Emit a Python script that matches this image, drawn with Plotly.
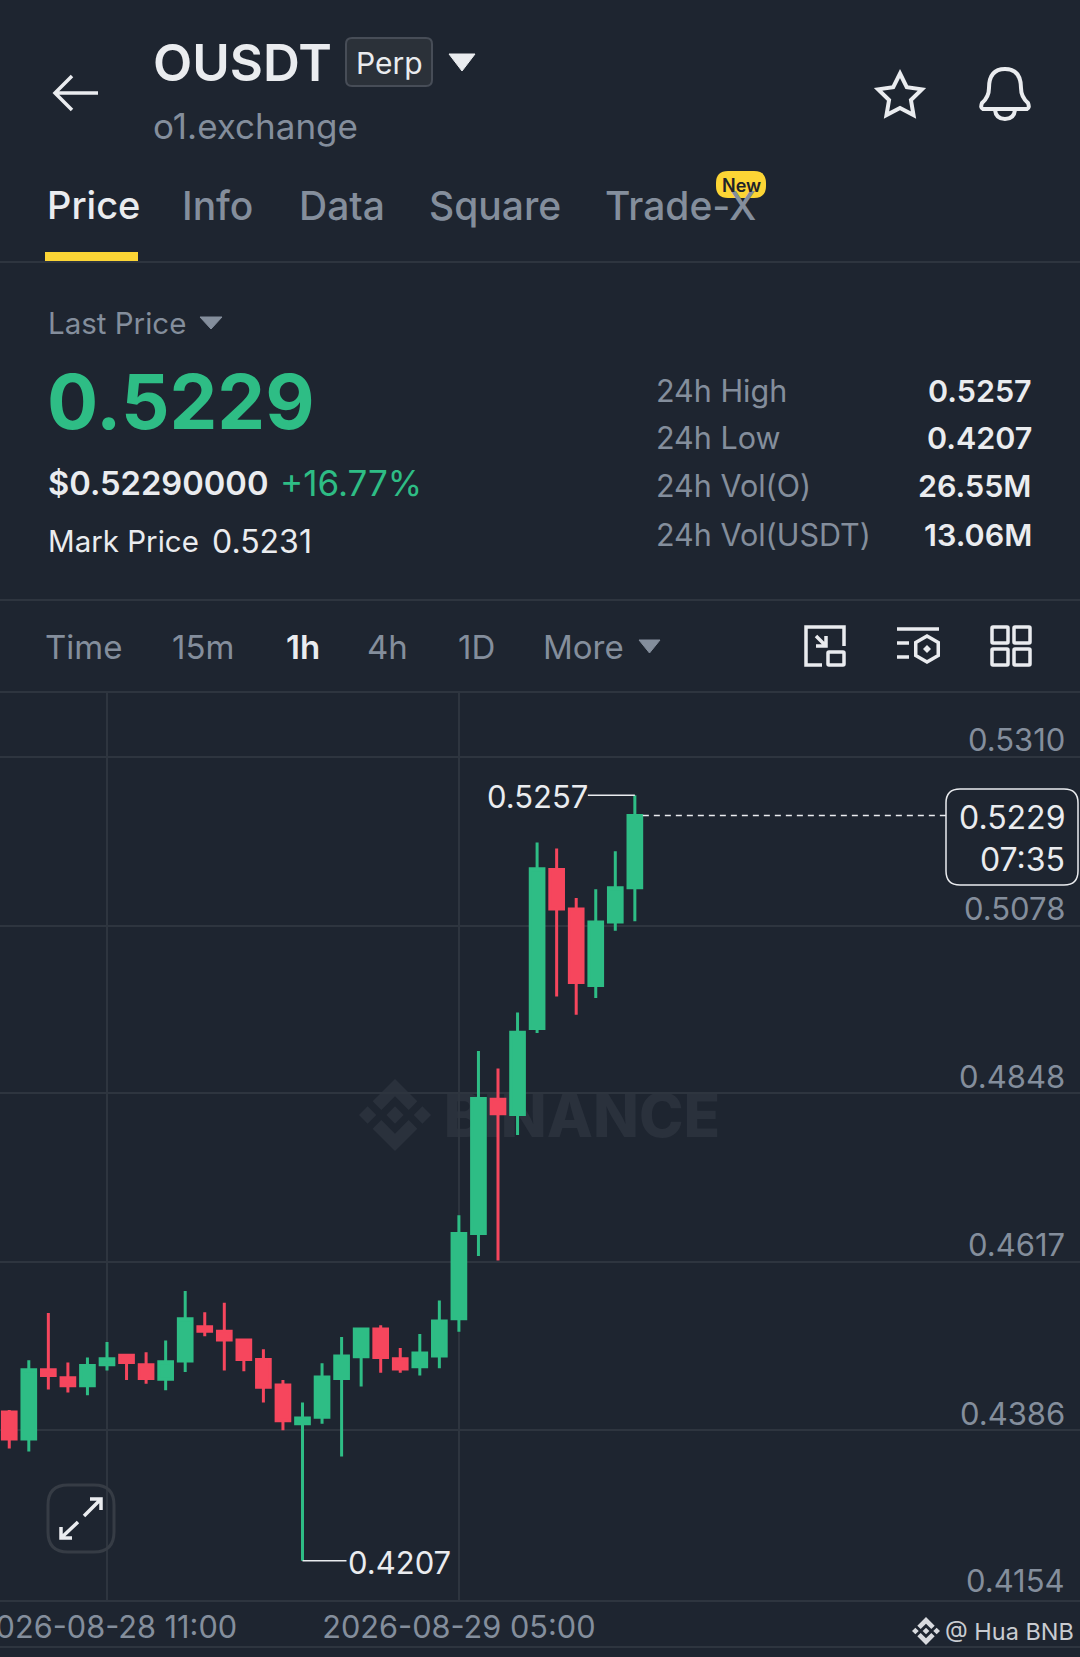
#!/usr/bin/env python3

"""
OUSDT perp price screen, 1h candles
"""

import math
import pandas as pd
import plotly.graph_objects as go

WIDTH = 1080
HEIGHT = 1657

BG = "#1E2530"
GRID = "#2E353F"
GREEN = "#2EBD85"
RED = "#F6465D"
GREY = "#848E9C"
WHITE = "#EAECEF"
YELLOW = "#FCD535"
FONT = "Inter"

# hourly candles, first one is 2026-08-28 06:00
opens = [0.4411, 0.4374, 0.4469, 0.4458, 0.4447, 0.4476, 0.4489, 0.4476, 0.4456, 0.4481, 0.4528,
         0.4522, 0.4510, 0.4483, 0.4448, 0.4395, 0.4404, 0.4457, 0.4487, 0.4525, 0.4484, 0.4473,
         0.4488, 0.4539, 0.4656, 0.4840, 0.4819, 0.4937, 0.5155, 0.5101, 0.4996, 0.5083, 0.5130]
highs = [0.4414, 0.4482, 0.4547, 0.4479, 0.4486, 0.4507, 0.4490, 0.4493, 0.4509, 0.4577, 0.4548,
         0.4561, 0.4512, 0.4497, 0.4455, 0.4424, 0.4478, 0.4514, 0.4527, 0.4530, 0.4499, 0.4518,
         0.4564, 0.4681, 0.4906, 0.4882, 0.4959, 0.5192, 0.5184, 0.5116, 0.5128, 0.5180, 0.5257]
lows = [0.4361, 0.4357, 0.4442, 0.4438, 0.4434, 0.4468, 0.4455, 0.4450, 0.4441, 0.4466, 0.4515,
        0.4468, 0.4467, 0.4424, 0.4386, 0.4207, 0.4395, 0.4350, 0.4446, 0.4465, 0.4465, 0.4461,
        0.4471, 0.4521, 0.4625, 0.4619, 0.4791, 0.4931, 0.4981, 0.4956, 0.4979, 0.5071, 0.5084]
closes = [0.4374, 0.4469, 0.4461, 0.4447, 0.4475, 0.4484, 0.4479, 0.4457, 0.4480, 0.4539, 0.4522,
          0.4510, 0.4483, 0.4445, 0.4399, 0.4403, 0.4459, 0.4488, 0.4525, 0.4486, 0.4470, 0.4492,
          0.4536, 0.4656, 0.4841, 0.4820, 0.4932, 0.5156, 0.5101, 0.5000, 0.5083, 0.5130, 0.5229]

price_ticks = [0.5310, 0.5078, 0.4848, 0.4617, 0.4386, 0.4154]
price_labels = ["0.5310", "0.5078", "0.4848", "0.4617", "0.4386", "0.4154"]
time_ticks = ["2026-08-28 11:00", "2026-08-29 05:00"]

tabs = ["Price", "Info", "Data", "Square", "Trade-X"]
tab_x = [46, 181, 298, 428, 604]
intervals = ["15m", "1h", "4h", "1D"]
interval_x = [203, 303, 387, 476]
stats = ["24h High", "24h Low", "24h Vol(O)", "24h Vol(USDT)"]
stat_values = ["0.5257", "0.4207", "26.55M", "13.06M"]
stat_y = [390, 437, 485, 534]

times = pd.date_range("2026-08-28 06:00", periods=len(opens), freq="h")

# chart area in page pixels
PX_PER_HOUR = 19.55
CHART_TOP = 692
CHART_BOTTOM = 1599.5
Y_TOP_GRID = 756.5
PX_PER_PRICE = (CHART_BOTTOM - Y_TOP_GRID) / (price_ticks[0] - price_ticks[-1])

anchor_time = pd.Timestamp(time_ticks[0])
x_start = anchor_time - pd.Timedelta(hours=107 / PX_PER_HOUR)
x_end = anchor_time + pd.Timedelta(hours=(WIDTH - 107) / PX_PER_HOUR)
y_top = price_ticks[0] + (Y_TOP_GRID - CHART_TOP) / PX_PER_PRICE

annotations = []
shapes = []


def label(text, x, y, size, color=WHITE, anchor="left", weight=400, **kwargs):
    args = dict(text=text, x=x, y=y, xref="x", yref="y", xanchor=anchor, yanchor="middle",
                showarrow=False, borderpad=0,
                font=dict(family=FONT, size=size, color=color, weight=weight))
    args.update(kwargs)
    annotations.append(args)


def hline(y, color=GRID, width=2):
    shapes.append(dict(type="line", xref="x", yref="y", x0=0, x1=WIDTH, y0=y, y1=y,
                       line=dict(color=color, width=width)))


def path(d, color=WHITE, width=3.5, fill="rgba(0,0,0,0)", layer="above"):
    shapes.append(dict(type="path", xref="x", yref="y", path=d, fillcolor=fill, layer=layer,
                       line=dict(color=color, width=width)))


def poly(points):
    return "M " + " L ".join(f"{x:.2f},{y:.2f}" for x, y in points) + " Z"


def triangle(x0, x1, y0, y1, color):
    path(poly([(x0, y0), (x1, y0), ((x0 + x1) / 2, y1)]), color, 1, color)


def rounded(x0, y0, x1, y1, r):
    return (f"M {x0 + r},{y0} L {x1 - r},{y0} Q {x1},{y0} {x1},{y0 + r} L {x1},{y1 - r} "
            f"Q {x1},{y1} {x1 - r},{y1} L {x0 + r},{y1} Q {x0},{y1} {x0},{y1 - r} "
            f"L {x0},{y0 + r} Q {x0},{y0} {x0 + r},{y0} Z")


def binance_logo(cx, cy, r, color, layer):
    chevron = [(0, -1), (0.62, -0.38), (0.38, -0.14), (0, -0.52), (-0.38, -0.14), (-0.62, -0.38)]
    diamonds = [(0, 0), (-0.76, 0), (0.76, 0)]
    path(poly([(cx + a * r, cy + b * r) for a, b in chevron]), color, 0, color, layer)
    path(poly([(cx + a * r, cy - b * r) for a, b in chevron]), color, 0, color, layer)
    for dx, dy in diamonds:
        pts = [(dx, dy - 0.24), (dx + 0.24, dy), (dx, dy + 0.24), (dx - 0.24, dy)]
        path(poly([(cx + a * r, cy + b * r) for a, b in pts]), color, 0, color, layer)


# header
path("M 98,93 L 55,93 M 72,76 L 55,93 L 72,110")
label("OUSDT", 152, 62, 51, "#EAECEF", weight=600)
path(rounded(346, 38, 432, 86, 6), "#474D57", 2, "#2B3139")
label("Perp", 389, 63, 30, WHITE, "center")
triangle(449, 475, 54, 71, WHITE)
label("o1.exchange", 152, 126, 35, GREY)

star = []
for i in range(10):
    rad = 23 if i % 2 == 0 else 11.5
    ang = -math.pi / 2 + i * math.pi / 5
    star.append((900 + rad * math.cos(ang), 96.5 + rad * math.sin(ang)))
path(poly(star), width=4)
path("M 983,109 Q 980,108 982,103 Q 989,97 989,88 Q 989,69 1005,69 Q 1021,69 1021,88 "
     "Q 1021,97 1028,103 Q 1030,108 1027,109 Z M 995,110 Q 996,119 1005,119 Q 1014,119 1015,110",
     width=4)

# tabs
for i, tab in enumerate(tabs):
    label(tab, tab_x[i], 205, 38 if i == 0 else 39, WHITE if i == 0 else GREY, weight=500)
path(rounded(716, 171, 766, 198, 12), YELLOW, 0, YELLOW)
label("New", 741, 185, 18, "#1E2329", "center", 600)
hline(262)
path("M 45,252 L 138,252 L 138,261 L 45,261 Z", YELLOW, 0, YELLOW)

# price block
label("Last Price", 47, 323, 29.5, GREY)
triangle(200, 222, 317, 329, GREY)
label("0.5229", 46, 401, 76, GREEN, weight=700)
label("$0.52290000", 47, 483, 32.7, WHITE, weight=600)
label("+16.77%", 279, 483, 35, GREEN)
label("Mark Price", 47, 541, 29.5, WHITE)
label("0.5231", 211, 541, 32, WHITE)
for i, name in enumerate(stats):
    label(name, 655, stat_y[i], 30.5, GREY)
    label(stat_values[i], 1033, stat_y[i], 30.5, WHITE, "right", 600)
hline(600)

# toolbar
label("Time", 44, 647, 33, GREY)
label("More", 542, 647, 33, GREY)
for i, name in enumerate(intervals):
    active = name == "1h"
    label(name, interval_x[i], 647, 33, WHITE if active else GREY, "center", 600 if active else 400)
triangle(639, 660, 640, 653, GREY)

path("M 822,665 L 806,665 L 806,627 L 844,627 L 844,646 M 816,636 L 826,646 M 826,636 L 826,646 L 816,646")
path(rounded(828, 652, 844, 665, 1))
path("M 897,629 L 939,629 M 897,643 L 909,643 M 897,657 L 909,657")
hexagon = []
for i in range(6):
    ang = -math.pi / 2 + i * math.pi / 3
    hexagon.append((927 + 13 * math.cos(ang), 649 + 13 * math.sin(ang)))
path(poly(hexagon))
path(poly([(927, 645), (931, 649), (927, 653), (923, 649)]), WHITE, 0, WHITE)
for sx in (992, 1014):
    for sy in (627, 649):
        path(rounded(sx, sy, sx + 16, sy + 16, 1))
hline(CHART_TOP)

# expand button
path(rounded(48, 1485, 114, 1552, 20), "#363C45", 3)
path("M 84,1516 L 101,1499 M 90,1499 L 101,1499 L 101,1510 M 78,1522 L 61,1538 M 61,1527 L 61,1538 L 72,1538")

# footer
hline(1647)
binance_logo(926, 1631, 14, "#D8DADE", "above")
label("@ Hua BNB", 944, 1631, 23.5, "#C9CCD1")

# price axis labels and last price box
for value, text in zip(price_ticks, price_labels):
    shift = 19 if value == price_ticks[-1] else 17
    label(text, 1066, value, 31, GREY, "right", yref="y2", yshift=shift)

last_time = times[-1]
high_i = highs.index(max(highs))
low_i = lows.index(min(lows))

shapes.append(dict(type="line", xref="x2", yref="y2", xsizemode="pixel", xanchor=last_time,
                   x0=8, x1=312, y0=closes[-1], y1=closes[-1],
                   line=dict(color=WHITE, width=1.5, dash="6px,5px")))
path(rounded(946, 789, 1078, 885, 14), WHITE, 1.5, BG)
label(f"{closes[-1]:.4f}", 1066, 817, 32, WHITE, "right")
label("07:35", 1066, 859, 32, WHITE, "right")

# high and low markers
shapes.append(dict(type="line", xref="x2", yref="y2", xsizemode="pixel", xanchor=times[high_i],
                   x0=0, x1=-47, y0=highs[high_i], y1=highs[high_i],
                   line=dict(color=WHITE, width=1.5)))
shapes.append(dict(type="line", xref="x2", yref="y2", xsizemode="pixel", xanchor=times[low_i],
                   x0=0, x1=44, y0=lows[low_i], y1=lows[low_i],
                   line=dict(color=WHITE, width=1.5)))
annotations.append(dict(text=f"{highs[high_i]:.4f}", x=times[high_i], y=highs[high_i], xref="x2", yref="y2",
                        xanchor="right", yanchor="middle", xshift=-46, yshift=-1, showarrow=False, borderpad=0,
                        font=dict(family=FONT, size=31, color=WHITE)))
annotations.append(dict(text=f"{lows[low_i]:.4f}", x=times[low_i], y=lows[low_i], xref="x2", yref="y2",
                        xanchor="left", yanchor="middle", xshift=44, yshift=-2, showarrow=False, borderpad=0,
                        font=dict(family=FONT, size=31, color=WHITE)))

# watermark sits under the candles, so it goes on the lower subplot as a text trace
binance_logo(395, 1115, 36, "#2A313C", "below")

fig = go.Figure()
fig.add_trace(go.Scatter(
    x=[582], y=[1122], mode="text", text=["BINANCE"], xaxis="x", yaxis="y",
    textfont=dict(family=FONT, size=60, color="#2A313C", weight=800),
    hoverinfo="skip", showlegend=False,
))
fig.add_trace(go.Candlestick(
    x=times, open=opens, high=highs, low=lows, close=closes, xaxis="x2", yaxis="y2",
    increasing=dict(line=dict(color=GREEN, width=3), fillcolor=GREEN),
    decreasing=dict(line=dict(color=RED, width=3), fillcolor=RED),
    whiskerwidth=0, hoverinfo="skip", showlegend=False,
))

fig.update_layout(
    width=WIDTH,
    height=HEIGHT,
    margin=dict(l=0, r=0, t=0, b=0, autoexpand=False),
    paper_bgcolor=BG,
    plot_bgcolor="rgba(0,0,0,0)",
    showlegend=False,
    dragmode=False,
    boxgap=0.3,
    boxgroupgap=0,
    xaxis=dict(range=[0, WIDTH], visible=False, fixedrange=True, domain=[0, 1]),
    yaxis=dict(range=[HEIGHT, 0], visible=False, fixedrange=True, domain=[0, 1]),
    xaxis2=dict(
        anchor="y2", type="date", range=[x_start, x_end], domain=[0, 1], fixedrange=True,
        rangeslider=dict(visible=False),
        tickmode="array", tickvals=time_ticks, ticktext=time_ticks, ticks="",
        ticklabeloverflow="allow", automargin=False,
        showgrid=True, gridcolor=GRID, gridwidth=1.5, zeroline=False,
        showline=True, linecolor=GRID, linewidth=2,
        tickfont=dict(family=FONT, size=30.7, color=GREY),
    ),
    yaxis2=dict(
        anchor="x2", range=[price_ticks[-1], y_top], fixedrange=True,
        domain=[(HEIGHT - CHART_BOTTOM) / HEIGHT, (HEIGHT - CHART_TOP) / HEIGHT],
        tickmode="array", tickvals=price_ticks, showticklabels=False, ticks="",
        showgrid=True, gridcolor=GRID, gridwidth=1.5, zeroline=False,
    ),
    annotations=annotations,
    shapes=shapes,
)

fig.write_html("out.html", config=dict(displayModeBar=False),
               post_script="document.body.style.margin='0';document.body.style.background='%s';" % BG)
